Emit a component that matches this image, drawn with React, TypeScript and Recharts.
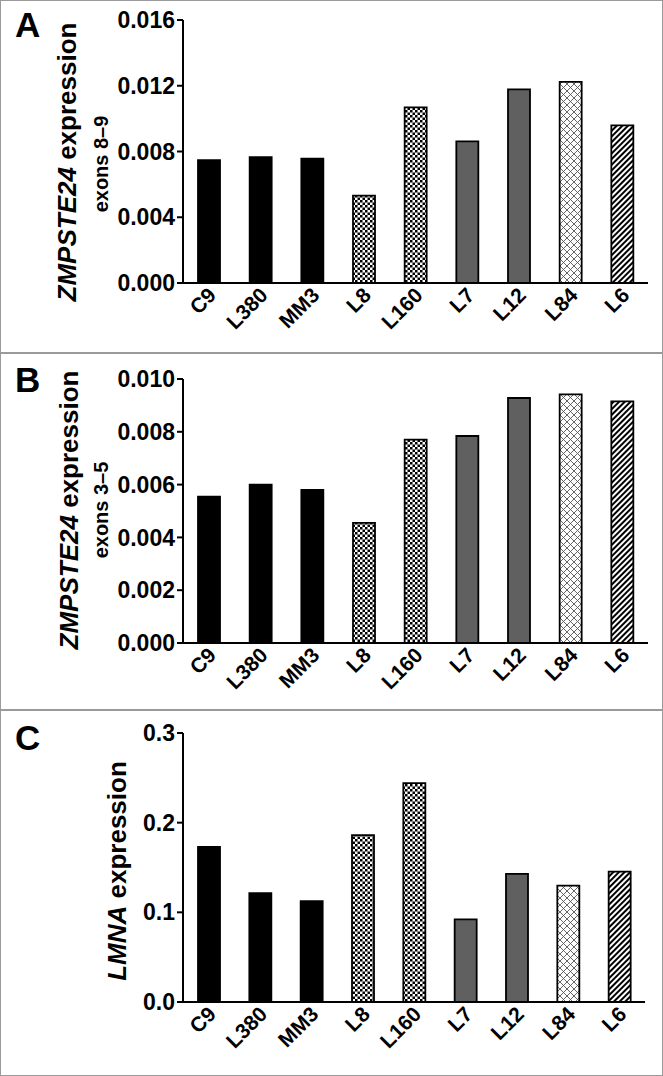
import React from "react";
import { BarChart, Bar, XAxis, YAxis, Cell } from "recharts";

const categories = ["C9", "L380", "MM3", "L8", "L160", "L7", "L12", "L84", "L6"];
const exons89Values = [0.00748, 0.00765, 0.00756, 0.00531, 0.01069, 0.00862, 0.01178, 0.01223, 0.00959];
const exons35Values = [0.00554, 0.006, 0.0058, 0.00455, 0.0077, 0.00784, 0.00928, 0.00942, 0.00915];
const lmnaValues = [0.173, 0.1215, 0.1126, 0.186, 0.244, 0.0921, 0.143, 0.1297, 0.1454];
const exons89Ticks = [0, 0.004, 0.008, 0.012, 0.016];
const exons35Ticks = [0, 0.002, 0.004, 0.006, 0.008, 0.01];
const lmnaTicks = [0, 0.1, 0.2, 0.3];

// fill per cell line group
const barFills = [
  "#000000", "#000000", "#000000",
  "url(#checker)", "url(#checker)",
  "#606060", "#606060",
  "url(#crosshatch)", "url(#diagonal)",
];

const FONT = "'Liberation Sans', Arial, sans-serif";

const toRows = (values: number[]) => categories.map((name, i) => ({ name, value: values[i] }));

const PatternDefs = () => (
  <svg width={0} height={0} style={{ position: "absolute" }}>
    <defs>
      <pattern id="checker" width={5} height={5} patternUnits="userSpaceOnUse">
        <rect width={5} height={5} fill="#fff" />
        <rect width={2.5} height={2.5} fill="#000" />
        <rect x={2.5} y={2.5} width={2.5} height={2.5} fill="#000" />
      </pattern>
      <pattern id="crosshatch" width={7} height={7} patternUnits="userSpaceOnUse">
        <rect width={7} height={7} fill="#fff" />
        <path d="M0,0 L7,7 M7,0 L0,7" stroke="#555" strokeWidth={0.9} />
      </pattern>
      <pattern id="diagonal" width={4} height={4} patternUnits="userSpaceOnUse" patternTransform="rotate(45)">
        <rect width={4} height={4} fill="#fff" />
        <rect width={2} height={4} fill="#000" />
      </pattern>
    </defs>
  </svg>
);

interface PanelProps {
  top: number;
  height: number;
  values: number[];
  ticks: number[];
  digits: number;
  plotTop: number;
  plotBottom: number;
  rightEdge: number;
}

const Panel = ({ top, height, values, ticks, digits, plotTop, plotBottom, rightEdge }: PanelProps) => (
  <div style={{ position: "absolute", left: 0, top, width: 663, height }}>
    <BarChart
      width={663}
      height={height}
      data={toRows(values)}
      margin={{ top: plotTop, right: 663 - rightEdge, left: 0, bottom: height - plotBottom - 60 }}
      barSize={22}
    >
      <XAxis
        dataKey="name"
        height={60}
        interval={0}
        tickLine={false}
        tickSize={2}
        axisLine={{ stroke: "#000", strokeWidth: 2 }}
        tick={{
          angle: -45,
          textAnchor: "end",
          dx: -2,
          dy: -1,
          fill: "#000",
          fontFamily: FONT,
          fontWeight: "bold",
          fontSize: 21,
        }}
      />
      <YAxis
        width={183}
        domain={[ticks[0], ticks[ticks.length - 1]]}
        ticks={ticks}
        tickFormatter={(v: number) => v.toFixed(digits)}
        axisLine={{ stroke: "#000", strokeWidth: 2 }}
        tickLine={{ stroke: "#000", strokeWidth: 2 }}
        tickSize={6}
        tick={{ fill: "#000", fontFamily: FONT, fontWeight: "bold", fontSize: 23 }}
      />
      <Bar dataKey="value" isAnimationActive={false} stroke="#000" strokeWidth={1.8}>
        {categories.map((c, i) => (
          <Cell key={c} fill={barFills[i]} />
        ))}
      </Bar>
    </BarChart>
  </div>
);

const letterStyle: React.CSSProperties = {
  position: "absolute",
  left: 15,
  fontFamily: FONT,
  fontWeight: "bold",
  fontSize: 35,
  lineHeight: "35px",
  color: "#000",
};

const vLabel = (cx: number, cy: number, size: number): React.CSSProperties => ({
  position: "absolute",
  left: cx,
  top: cy,
  transform: "translate(-50%, -50%) rotate(-90deg)",
  whiteSpace: "nowrap",
  fontFamily: FONT,
  fontWeight: "bold",
  fontSize: size,
  lineHeight: `${size}px`,
  color: "#000",
});

const panelBox = (top: number, height: number): React.CSSProperties => ({
  position: "absolute",
  left: 0,
  top,
  width: 661,
  height: height - 1,
  border: "1px solid #9a9a9a",
});

export default function App() {
  return (
    <div style={{ position: "absolute", left: 0, top: 0, width: 663, height: 1076, background: "#fff", overflow: "hidden" }}>
      <PatternDefs />
      <div style={panelBox(0, 353)} />
      <div style={panelBox(352, 358)} />
      <div style={panelBox(709, 366)} />

      <Panel top={0} height={352} values={exons89Values} ticks={exons89Ticks} digits={3} plotTop={20} plotBottom={283} rightEdge={648} />
      <Panel top={352} height={357} values={exons35Values} ticks={exons35Ticks} digits={3} plotTop={27} plotBottom={291} rightEdge={648} />
      <Panel top={709} height={366} values={lmnaValues} ticks={lmnaTicks} digits={1} plotTop={24} plotBottom={293} rightEdge={645} />

      <div style={{ ...letterStyle, top: 7 }}>A</div>
      <div style={{ ...letterStyle, top: 362 }}>B</div>
      <div style={{ ...letterStyle, top: 720 }}>C</div>

      <div style={vLabel(67, 162, 26)}>
        <i>ZMPSTE24</i> expression
      </div>
      <div style={vLabel(101, 164, 20)}>exons 8–9</div>
      <div style={vLabel(69, 510, 26)}>
        <i>ZMPSTE24</i> expression
      </div>
      <div style={vLabel(101, 510, 20)}>exons 3–5</div>
      <div style={vLabel(117, 871, 26)}>
        <i>LMNA</i> expression
      </div>
    </div>
  );
}
